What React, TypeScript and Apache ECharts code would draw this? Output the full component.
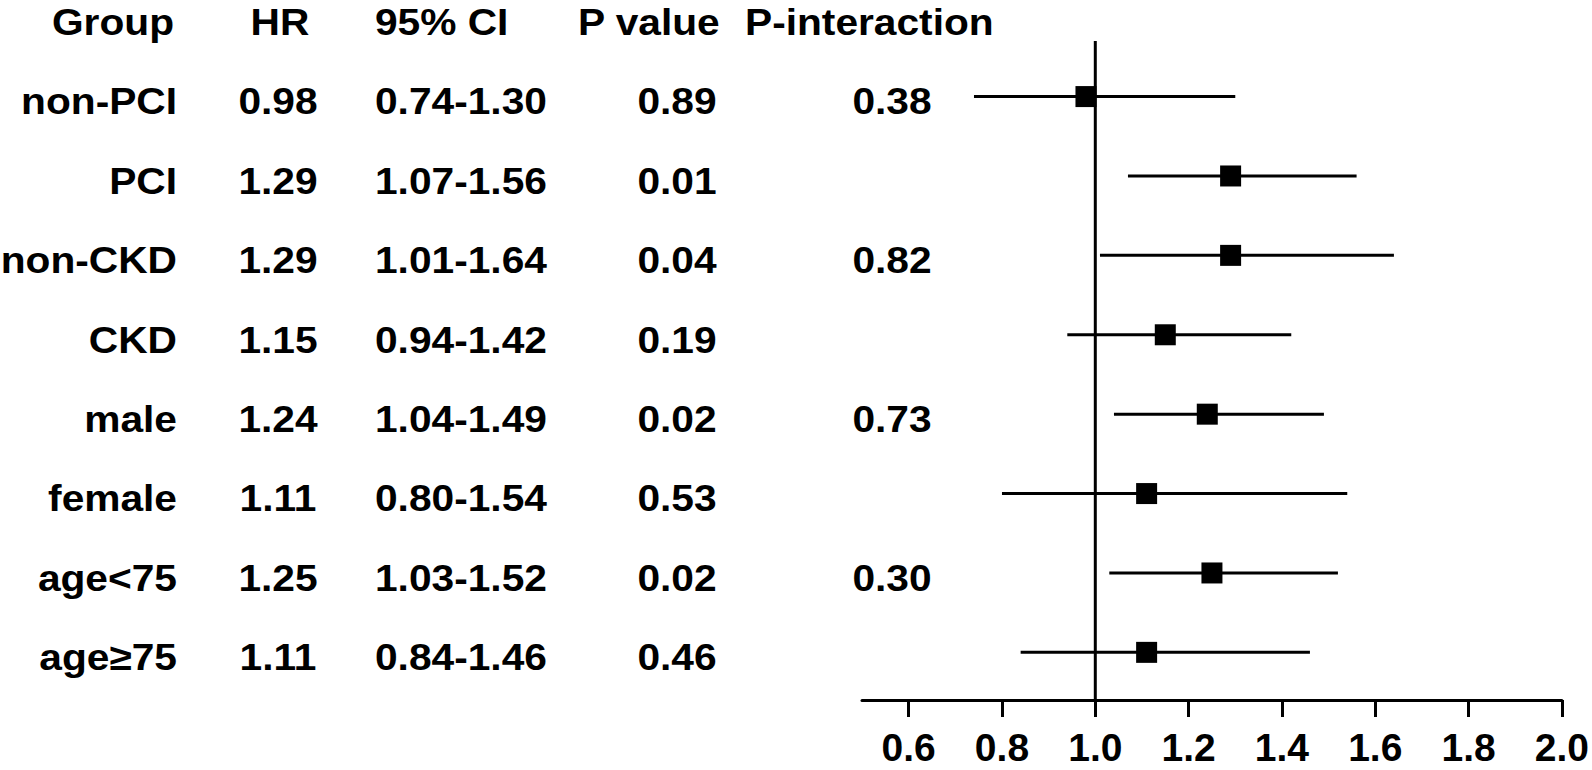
import React, { useEffect, useRef } from 'react';
import * as echarts from 'echarts';

const groups = ['non-PCI', 'PCI', 'non-CKD', 'CKD', 'male', 'female', 'age<75', 'age≥75'];
const hr = [0.98, 1.29, 1.29, 1.15, 1.24, 1.11, 1.25, 1.11];
const ciLow = [0.74, 1.07, 1.01, 0.94, 1.04, 0.80, 1.03, 0.84];
const ciHigh = [1.30, 1.56, 1.64, 1.42, 1.49, 1.54, 1.52, 1.46];
const pValues = ['0.89', '0.01', '0.04', '0.19', '0.02', '0.53', '0.02', '0.46'];
const pInteraction = ['0.38', '', '0.82', '', '0.73', '', '0.30', ''];
const headers = ['Group', 'HR', '95% CI', 'P value', 'P-interaction'];
const xTicks = [0.6, 0.8, 1.0, 1.2, 1.4, 1.6, 1.8, 2.0];
const refValue = 1;

const FONT = '"Liberation Sans", Arial, sans-serif';
const Y_MIN = -0.7;
const Y_MAX = 7.6;

function txt(text: string, x: number, y: number, align: string, fontSize = 37, scaleX = 1.1) {
  return {
    type: 'text',
    x,
    y,
    scaleX,
    silent: true,
    style: {
      text,
      fill: '#000',
      fontSize,
      fontWeight: 'bold',
      fontFamily: FONT,
      align,
      textAlign: align,
      verticalAlign: 'middle',
      textVerticalAlign: 'middle',
    },
  };
}

export default function App() {
  const ref = useRef<HTMLDivElement>(null);

  useEffect(() => {
    if (!ref.current) return;
    const chart = echarts.init(ref.current, null, { renderer: 'svg' });
    const option: any = {
      animation: false,
      backgroundColor: '#fff',
      grid: { left: 862, right: 28.5, top: 41, bottom: 70 },
      xAxis: {
        type: 'value',
        min: 0.5,
        max: 2.0,
        splitLine: { show: false },
        axisLine: { show: true, onZero: false, lineStyle: { color: '#000', width: 3 } },
        axisTick: {
          show: true,
          customValues: xTicks,
          length: 17,
          lineStyle: { color: '#000', width: 3 },
        },
        axisLabel: {
          customValues: xTicks,
          formatter: (v: number) => v.toFixed(1),
          color: '#000',
          fontSize: 39,
          fontWeight: 'bold',
          fontFamily: FONT,
          margin: 28,
        },
      },
      yAxis: {
        type: 'value',
        min: Y_MIN,
        max: Y_MAX,
        inverse: true,
        show: false,
      },
      series: [
        {
          type: 'line',
          data: [[refValue, Y_MIN], [refValue, Y_MAX]],
          symbol: 'none',
          lineStyle: { color: '#000', width: 3 },
          z: 1,
          silent: true,
        },
        {
          type: 'custom',
          data: ciLow.map((lo, i) => [lo, i, ciHigh[i]]),
          encode: { x: [0, 2], y: 1 },
          renderItem: (params: any, api: any) => {
            const p1 = api.coord([api.value(0), api.value(1)]);
            const p2 = api.coord([api.value(2), api.value(1)]);
            return {
              type: 'line',
              shape: { x1: p1[0], y1: p1[1], x2: p2[0], y2: p2[1] },
              style: { stroke: '#000', lineWidth: 3 },
            };
          },
          z: 2,
          silent: true,
        },
        {
          type: 'scatter',
          data: hr.map((v, i) => [v, i]),
          symbol: 'rect',
          symbolSize: 21,
          itemStyle: { color: '#000', opacity: 1 },
          z: 3,
          silent: true,
        },
      ],
    };
    chart.setOption(option);

    const rowY = (i: number) => chart.convertToPixel({ yAxisIndex: 0 }, i) as number;
    const elements: any[] = [];
    const headerY = 22;
    elements.push(txt(headers[0], 174, headerY, 'right'));
    elements.push(txt(headers[1], 280, headerY, 'center'));
    elements.push(txt(headers[2], 375, headerY, 'left'));
    elements.push(txt(headers[3], 578, headerY, 'left'));
    elements.push(txt(headers[4], 745, headerY, 'left'));
    groups.forEach((g, i) => {
      const y = rowY(i) + 5;
      elements.push(txt(g, 177, y, 'right'));
      elements.push(txt(hr[i].toFixed(2), 278, y, 'center'));
      elements.push(txt(`${ciLow[i].toFixed(2)}-${ciHigh[i].toFixed(2)}`, 375, y, 'left'));
      elements.push(txt(pValues[i], 677, y, 'center'));
      if (pInteraction[i]) elements.push(txt(pInteraction[i], 892, y, 'center'));
    });
    chart.setOption({ graphic: { elements } });

    return () => chart.dispose();
  }, []);

  return (
    <div
      ref={ref}
      style={{ position: 'fixed', left: 0, top: 0, width: 1592, height: 770, background: '#fff' }}
    />
  );
}
